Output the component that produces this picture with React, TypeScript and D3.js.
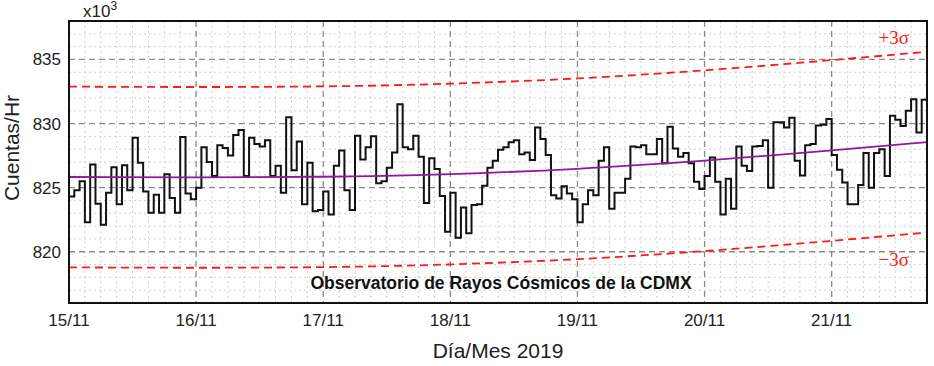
import { useEffect, useRef } from 'react'
import * as d3 from 'd3'

// hourly counts (x10^3) starting 15/11 00:00
const counts = [
  824.3, 824.8, 825.5, 822.3, 826.8, 823.75, 822.1, 824.6, 826.6, 823.7, 826.75, 824.8,
  828.9, 826.95, 824.7, 823.05, 824.45, 823.05, 826.05, 824.2, 823.05, 828.95, 824.55, 824.1,
  825.0, 828.15, 827.0, 825.9, 828.3, 828.1, 827.5, 829.1, 829.5, 825.9, 828.9, 828.4,
  828.2, 828.7, 825.9, 826.7, 824.6, 830.5, 826.35, 828.6, 823.7, 826.95, 823.15, 823.25,
  824.7, 822.9, 826.7, 827.9, 824.8, 823.25, 829.05, 827.2, 828.15, 829.0, 825.35, 825.5,
  826.55, 827.75, 831.5, 828.15, 828.0, 829.05, 827.4, 823.8, 827.3, 826.45, 824.35, 821.55,
  824.6, 821.1, 823.45, 821.45, 823.65, 823.7, 825.15, 826.55, 827.1, 827.95, 828.15, 828.55,
  828.7, 827.6, 827.75, 827.15, 829.7, 828.8, 827.55, 824.4, 824.15, 825.1, 824.55, 824.1,
  822.3, 823.7, 824.8, 824.4, 827.1, 828.15, 823.35, 824.6, 824.6, 825.7, 828.2, 828.15,
  828.3, 827.6, 827.6, 828.8, 826.9, 829.75, 828.05, 827.4, 827.7, 826.9, 825.45, 824.9,
  825.9, 827.35, 825.45, 822.9, 825.7, 823.35, 828.2, 826.7, 826.3, 828.2, 828.25, 828.7,
  825.0, 830.1, 830.1, 829.7, 830.45, 827.1, 825.95, 828.3, 828.4, 829.85, 829.9, 830.35,
  827.55, 826.4, 825.4, 823.7, 823.7, 825.2, 827.7, 825.0, 827.7, 828.0, 825.9, 830.6,
  830.3, 829.8, 831.0, 831.9, 829.3, 831.85
]

// fitted trend, read at each day boundary (hours from start)
const trendHours = [0, 24, 48, 72, 96, 120, 144, 162]
const trendValues = [825.83, 825.8, 825.85, 826.06, 826.47, 827.1, 827.9, 828.55]
const threeSigma = 7.05

const dayLabels = ['15/11', '16/11', '17/11', '18/11', '19/11', '20/11', '21/11']
const yTicks = [820, 825, 830, 835]

const W = 934
const H = 366
const margin = { top: 21, right: 7, bottom: 63, left: 69 }

export default function App() {
  const svgRef = useRef<SVGSVGElement>(null)

  useEffect(() => {
    if (!svgRef.current) return
    const svg = d3.select(svgRef.current)
    svg.selectAll('*').remove()

    const x0 = margin.left
    const x1 = W - margin.right
    const y0 = margin.top
    const y1 = H - margin.bottom
    const nHours = counts.length

    const x = d3.scaleLinear().domain([0, nHours]).range([x0, x1])
    const y = d3.scaleLinear().domain([816, 838]).range([y1, y0])

    const sans = 'Liberation Sans, Arial, sans-serif'
    const serif = 'Liberation Serif, Times New Roman, serif'

    svg.append('rect')
      .attr('x', 0).attr('y', 0).attr('width', W).attr('height', H)
      .attr('fill', '#fff')

    // minor grid
    const minor = svg.append('g')
      .attr('stroke', '#d0d0d0')
      .attr('stroke-width', 1)
      .attr('stroke-dasharray', '2,3')
    d3.range(3, nHours, 3).filter(h => h % 24 !== 0).forEach(h => {
      minor.append('line')
        .attr('x1', x(h)).attr('x2', x(h))
        .attr('y1', y0).attr('y2', y1)
    })
    d3.range(817, 838).filter(v => v % 5 !== 0).forEach(v => {
      minor.append('line')
        .attr('x1', x0).attr('x2', x1)
        .attr('y1', y(v)).attr('y2', y(v))
    })

    // major grid
    const major = svg.append('g')
      .attr('stroke', '#8a8a8a')
      .attr('stroke-width', 1.3)
      .attr('stroke-dasharray', '6,4')
    dayLabels.forEach((_, i) => {
      if (i === 0) return
      major.append('line')
        .attr('x1', x(i * 24)).attr('x2', x(i * 24))
        .attr('y1', y0).attr('y2', y1)
    })
    yTicks.forEach(v => {
      major.append('line')
        .attr('x1', x0).attr('x2', x1)
        .attr('y1', y(v)).attr('y2', y(v))
    })

    // trend and +-3 sigma bands
    const trend = d3.scaleLinear().domain(trendHours).range(trendValues)
    const curve = (off: number) => d3.line<number>()
      .x(h => x(h))
      .y(h => y(trend(h) + off))
      .curve(d3.curveMonotoneX)(trendHours)

    ;[threeSigma, -threeSigma].forEach(off => {
      svg.append('path')
        .attr('d', curve(off))
        .attr('fill', 'none')
        .attr('stroke', '#ff1a1a')
        .attr('stroke-width', 1.8)
        .attr('stroke-dasharray', '8,5')
    })

    // step series
    const stepData = counts.map((v, i) => ({ h: i, v }))
    stepData.push({ h: nHours, v: counts[nHours - 1] })
    svg.append('path')
      .datum(stepData)
      .attr('fill', 'none')
      .attr('stroke', '#111')
      .attr('stroke-width', 2)
      .attr('stroke-linejoin', 'miter')
      .attr('d', d3.line<{ h: number; v: number }>()
        .x(d => x(d.h))
        .y(d => y(d.v))
        .curve(d3.curveStepAfter))

    svg.append('path')
      .attr('d', curve(0))
      .attr('fill', 'none')
      .attr('stroke', '#8e1a9a')
      .attr('stroke-width', 1.8)

    // frame
    svg.append('rect')
      .attr('x', x0).attr('y', y0)
      .attr('width', x1 - x0).attr('height', y1 - y0)
      .attr('fill', 'none')
      .attr('stroke', '#111')
      .attr('stroke-width', 2)

    // sigma labels
    svg.append('text')
      .attr('x', 909).attr('y', 44)
      .attr('text-anchor', 'end')
      .attr('font-family', serif)
      .attr('font-size', 19)
      .attr('fill', '#ff1a1a')
      .text('+3σ')
    svg.append('text')
      .attr('x', 909).attr('y', 266)
      .attr('text-anchor', 'end')
      .attr('font-family', serif)
      .attr('font-size', 19)
      .attr('fill', '#ff1a1a')
      .text('−3σ')

    svg.append('text')
      .attr('x', 501).attr('y', 289)
      .attr('text-anchor', 'middle')
      .attr('font-family', sans)
      .attr('font-weight', 'bold')
      .attr('font-size', 17.5)
      .attr('fill', '#111')
      .text('Observatorio de Rayos Cósmicos de la CDMX')

    // y tick labels
    yTicks.forEach(v => {
      svg.append('text')
        .attr('x', 61).attr('y', y(v) + 6)
        .attr('text-anchor', 'end')
        .attr('font-family', sans)
        .attr('font-size', 17)
        .attr('fill', '#222')
        .text(String(v))
    })

    // x tick labels
    dayLabels.forEach((lab, i) => {
      svg.append('text')
        .attr('x', x(i * 24)).attr('y', 326)
        .attr('text-anchor', 'middle')
        .attr('font-family', sans)
        .attr('font-size', 17)
        .attr('fill', '#222')
        .text(lab)
    })

    const mult = svg.append('text')
      .attr('x', 83).attr('y', 17)
      .attr('font-family', sans)
      .attr('font-size', 17)
      .attr('fill', '#222')
    mult.append('tspan').text('x10')
    mult.append('tspan').attr('dy', -7).attr('font-size', 12).text('3')

    svg.append('text')
      .attr('transform', `translate(19,148) rotate(-90)`)
      .attr('text-anchor', 'middle')
      .attr('font-family', sans)
      .attr('font-size', 21)
      .attr('fill', '#222')
      .text('Cuentas/Hr')

    svg.append('text')
      .attr('x', (x0 + x1) / 2).attr('y', 358)
      .attr('text-anchor', 'middle')
      .attr('font-family', sans)
      .attr('font-size', 21)
      .attr('fill', '#222')
      .text('Día/Mes 2019')
  }, [])

  return (
    <svg
      ref={svgRef}
      width={W}
      height={H}
      style={{ position: 'absolute', left: 0, top: 0 }}
    />
  )
}
